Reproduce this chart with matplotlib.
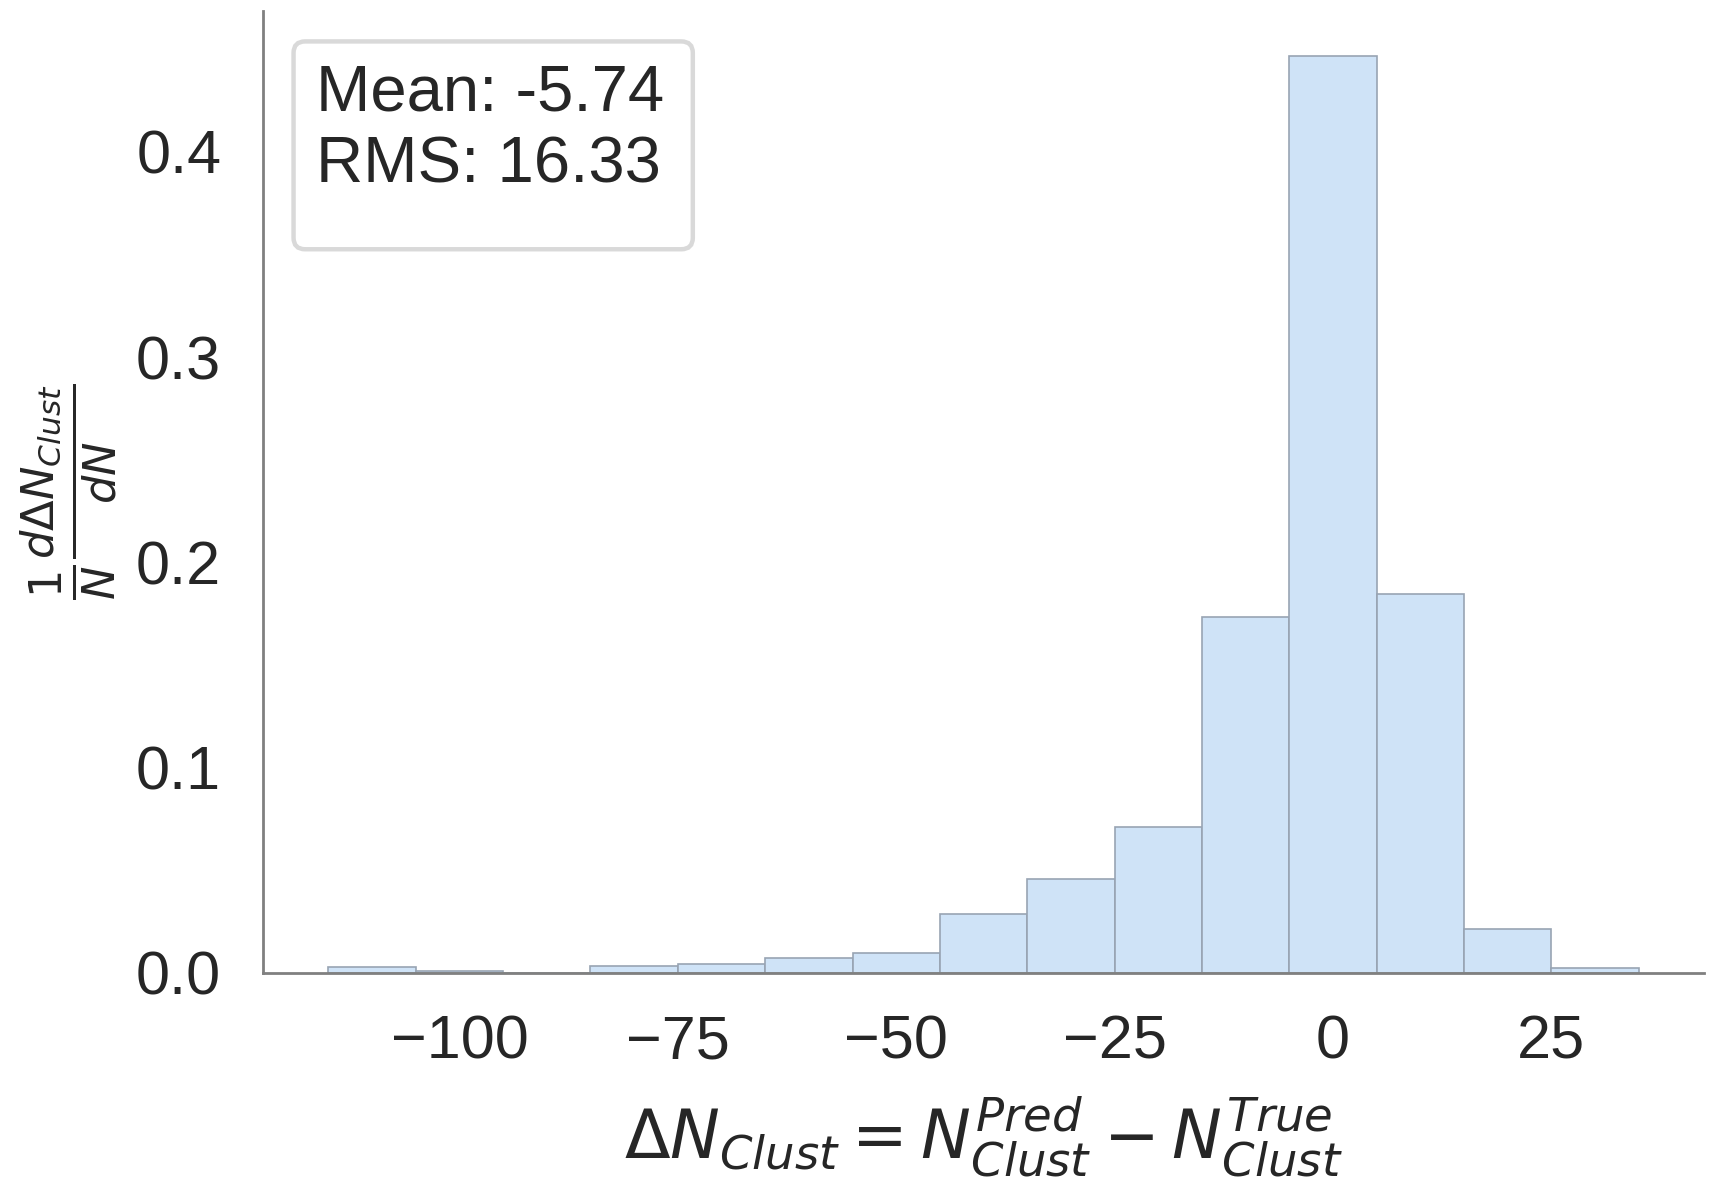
import numpy as np
import matplotlib
matplotlib.use('Agg')
import matplotlib.pyplot as plt
from matplotlib.patches import FancyBboxPatch
import seaborn as sns

# fraction of events per bin of delta N (bin width 10)
bin_edges = np.arange(-115, 36, 10)
bin_centers = np.arange(-110, 31, 10)
frac = [0.003, 0.0007, 0.0, 0.0032, 0.0043, 0.007, 0.0096, 0.0288,
        0.0459, 0.071, 0.1736, 0.4465, 0.1848, 0.0214, 0.0025]

mean_val = -5.74
rms_val = 16.33

sns.set_style('white')
plt.rcParams['font.family'] = ['Liberation Sans', 'DejaVu Sans']
plt.rcParams['mathtext.fontset'] = 'dejavusans'

fig = plt.figure(figsize=(8.59, 5.91), dpi=200)
ax = fig.add_axes([0.153, 0.177, 0.839, 0.814])

ax.hist(bin_centers, bins=bin_edges, weights=frac,
        color='#cfe3f7', edgecolor='#98a4b3', linewidth=0.6)

sns.despine(ax=ax)
for s in ['left', 'bottom']:
    ax.spines[s].set_color('#808080')
    ax.spines[s].set_linewidth(1.0)

ax.set_yticks([0.0, 0.1, 0.2, 0.3, 0.4])
ax.set_xticks([-100, -75, -50, -25, 0, 25])
ax.tick_params(axis='both', labelsize=22, colors='#262626', length=0, pad=15)

ax.set_xlabel(r'$\Delta N_{Clust} = N^{Pred}_{Clust} - N^{True}_{Clust}$',
              fontsize=24, color='#262626', labelpad=8)
ax.set_ylabel(r'$\frac{1}{N}\frac{d\Delta N_{Clust}}{dN}$',
              fontsize=23, color='#262626', labelpad=6)

# stats box
box = FancyBboxPatch((0.0213, 0.752), 0.277, 0.216, transform=ax.transAxes,
                     boxstyle='round,pad=0,rounding_size=0.008',
                     mutation_aspect=1.5, facecolor='white',
                     edgecolor='#d9d9d9', linewidth=1.6, zorder=4)
ax.add_patch(box)
ax.text(0.037, 0.945, 'Mean: %.2f\nRMS: %.2f' % (mean_val, rms_val),
        transform=ax.transAxes, fontsize=23.5, color='#262626',
        va='top', ha='left', linespacing=1.25, zorder=5)

fig.savefig('out.png', dpi=200)
